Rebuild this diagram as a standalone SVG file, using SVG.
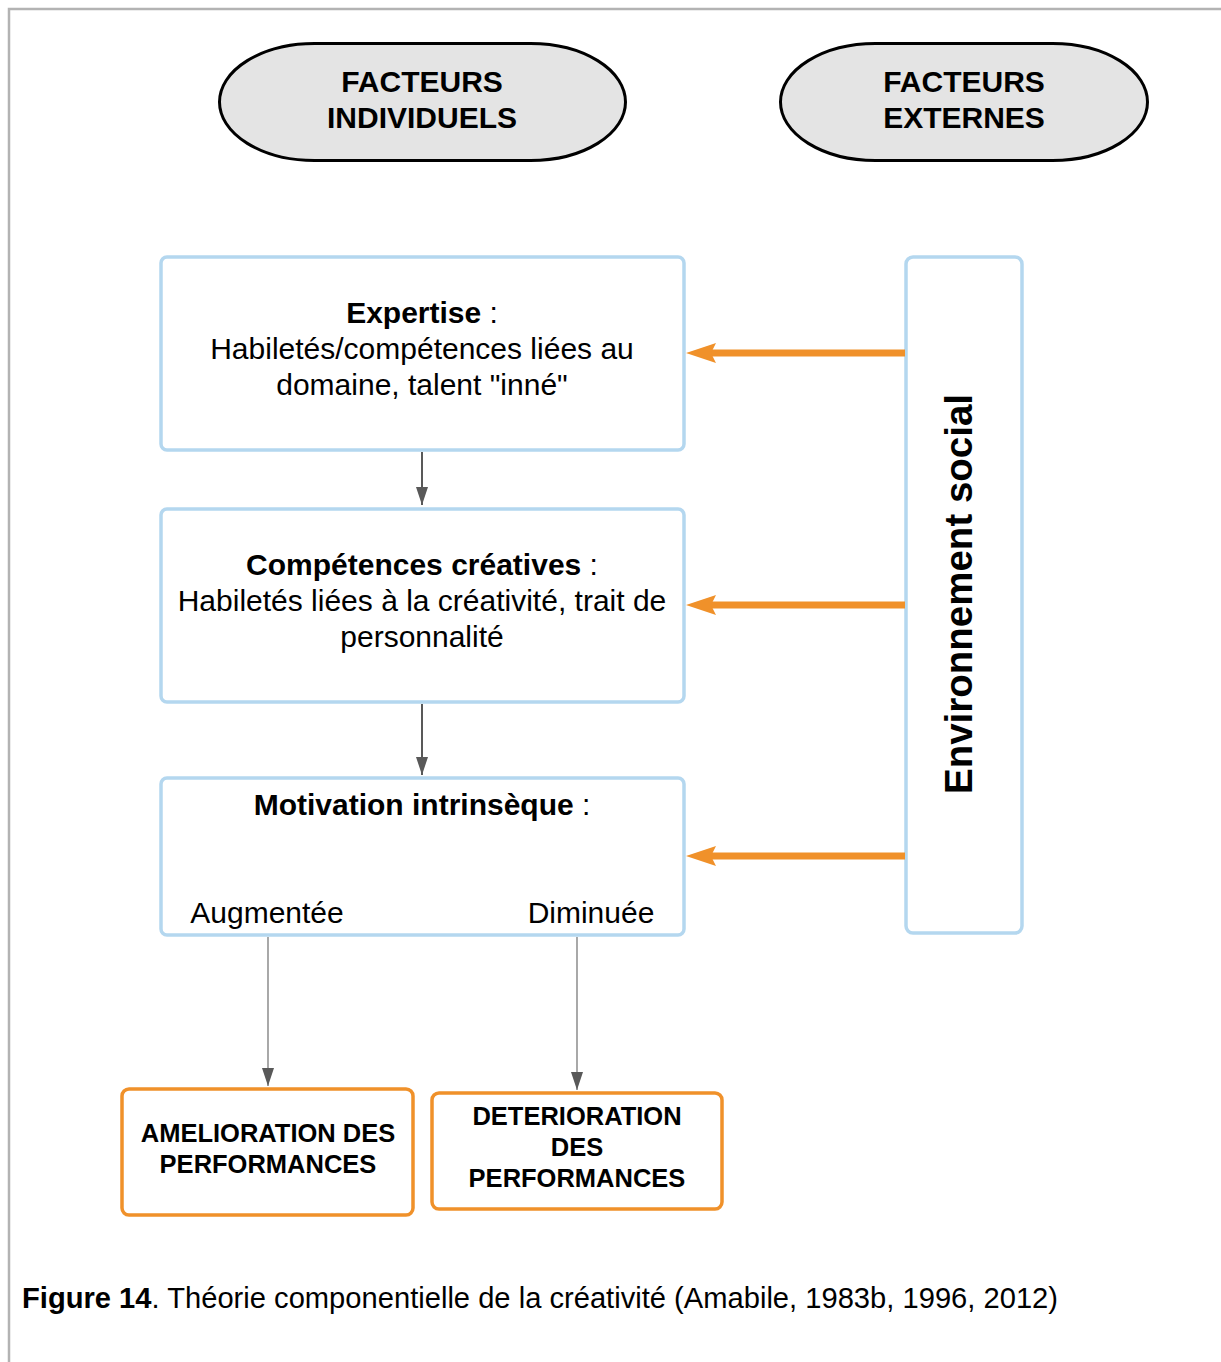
<svg xmlns="http://www.w3.org/2000/svg" width="1221" height="1362" viewBox="0 0 1221 1362">
<style>
.pill{fill:#e4e4e4;stroke:#000;stroke-width:3}
.blue{fill:#fff;stroke:#b4d7ef;stroke-width:3.5}
.orng{fill:#fff;stroke:#f0912a;stroke-width:3.5}
.t{font-family:"Liberation Sans",Arial,sans-serif;fill:#000;text-anchor:middle}
.h{font-size:30px;font-weight:bold}
.b{font-size:30px}
.o{font-size:25.5px;font-weight:bold}
.oa{stroke:#f0912a;stroke-width:7;fill:none}
.ga{stroke:#595959;stroke-width:2;fill:none}
.gl{stroke:#7a7a7a;stroke-width:1.3;fill:none}
</style>
<defs>
<marker id="ao" markerUnits="userSpaceOnUse" markerWidth="32" markerHeight="22" refX="6" refY="11" orient="auto"><path d="M0,1 L30,11 L0,21 L5,11 Z" fill="#f0912a"/></marker>
<marker id="ag" markerUnits="userSpaceOnUse" markerWidth="20" markerHeight="14" refX="18" refY="7" orient="auto"><path d="M0,1 L18,7 L0,13 Z" fill="#595959"/></marker>
</defs>
<rect x="9" y="9" width="1230" height="1370" fill="#fff" stroke="#b3b3b3" stroke-width="2.5"/>
<g id="facteurs-individuels">
<rect class="pill" x="219.5" y="43.5" width="406" height="117" rx="95" ry="58.5"/>
<text class="t h" x="422" y="92">FACTEURS</text>
<text class="t h" x="422" y="128">INDIVIDUELS</text>
</g>
<g id="facteurs-externes">
<rect class="pill" x="780.5" y="43.5" width="367" height="117" rx="95" ry="58.5"/>
<text class="t h" x="964" y="92">FACTEURS</text>
<text class="t h" x="964" y="128">EXTERNES</text>
</g>
<g id="expertise">
<rect class="blue" x="161" y="257" width="523" height="193" rx="6"/>
<text class="t b" x="422" y="323"><tspan font-weight="bold">Expertise</tspan> :</text>
<text class="t b" x="422" y="359">Habiletés/compétences liées au</text>
<text class="t b" x="422" y="395">domaine, talent "inné"</text>
</g>
<g id="competences">
<rect class="blue" x="161" y="509" width="523" height="193" rx="6"/>
<text class="t b" x="422" y="575"><tspan font-weight="bold">Compétences créatives</tspan> :</text>
<text class="t b" x="422" y="611">Habiletés liées à la créativité, trait de</text>
<text class="t b" x="422" y="647">personnalité</text>
</g>
<g id="motivation">
<rect class="blue" x="161" y="778" width="523" height="157" rx="6"/>
<text class="t b" x="422" y="815"><tspan font-weight="bold">Motivation intrinsèque</tspan> :</text>
<text class="t b" x="267" y="923">Augmentée</text>
<text class="t b" x="591" y="923">Diminuée</text>
</g>
<g id="environnement">
<rect class="blue" x="906" y="257" width="116" height="676" rx="7"/>
<text class="t" x="0" y="0" font-size="38.5" font-weight="bold" transform="translate(972 594) rotate(-90)">Environnement social</text>
</g>
<g id="amelioration">
<rect class="orng" x="122" y="1089" width="291" height="126" rx="7"/>
<text class="t o" x="268" y="1142">AMELIORATION DES</text>
<text class="t o" x="268" y="1173">PERFORMANCES</text>
</g>
<g id="deterioration">
<rect class="orng" x="432" y="1093" width="290" height="116" rx="7"/>
<text class="t o" x="577" y="1125">DETERIORATION</text>
<text class="t o" x="577" y="1156">DES</text>
<text class="t o" x="577" y="1187">PERFORMANCES</text>
</g>
<g id="connectors">
<line class="oa" x1="905" y1="353" x2="710" y2="353" marker-end="url(#ao)"/>
<line class="oa" x1="905" y1="605" x2="710" y2="605" marker-end="url(#ao)"/>
<line class="oa" x1="905" y1="856" x2="710" y2="856" marker-end="url(#ao)"/>
<line class="ga" x1="422" y1="452" x2="422" y2="505" marker-end="url(#ag)"/>
<line class="ga" x1="422" y1="704" x2="422" y2="775" marker-end="url(#ag)"/>
<line class="gl" x1="268" y1="937" x2="268" y2="1086" marker-end="url(#ag)"/>
<line class="gl" x1="577" y1="937" x2="577" y2="1090" marker-end="url(#ag)"/>
</g>
<text x="22" y="1308" font-family="'Liberation Sans',Arial,sans-serif" font-size="30" textLength="1036" lengthAdjust="spacingAndGlyphs"><tspan font-weight="bold">Figure 14</tspan>. Théorie componentielle de la créativité (Amabile, 1983b, 1996, 2012)</text>
</svg>
